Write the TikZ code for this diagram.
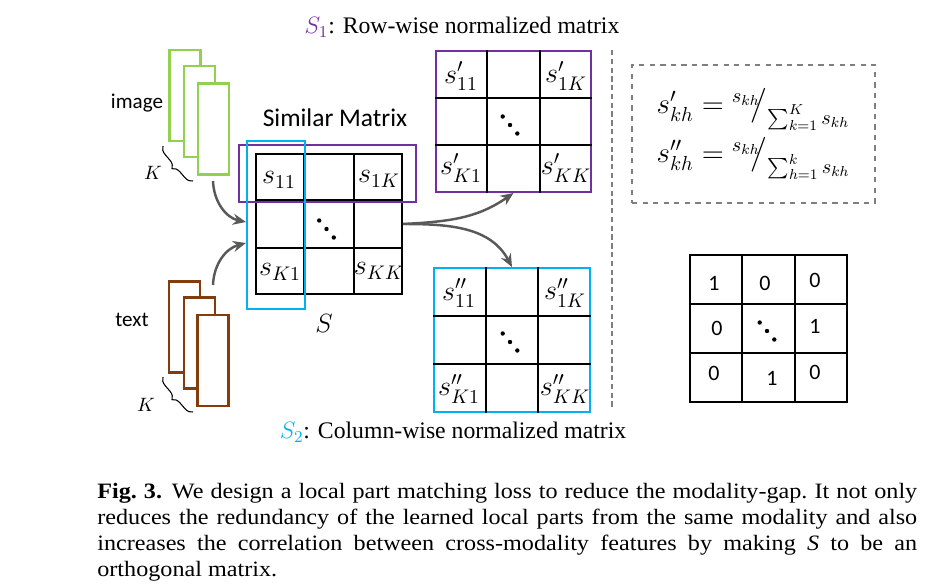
\RequirePackage{fix-cm}
\documentclass[tikz,border=0pt]{standalone}
\usepackage{amsmath, amssymb}
\usepackage{fontspec}
\setmainfont{Liberation Serif}
\newfontfamily\calfont{Carlito}
\newfontfamily\capfont[FakeStretch=1.1]{Liberation Serif}
\usepackage{tikz}
\usetikzlibrary{arrows.meta}
\usetikzlibrary{positioning,decorations.pathreplacing}
\usetikzlibrary{calc}
\usepackage{xcolor}
\definecolor{imggreen}{HTML}{92D050}
\definecolor{txtbrown}{HTML}{843C0C}
\definecolor{rowpurple}{HTML}{7030A0}
\definecolor{colcyan}{HTML}{00B0F0}
\definecolor{arrowgray}{HTML}{595959}
\definecolor{boxgray}{HTML}{7F7F7F}
\tikzset{
    featbox/.style={
        draw,
        fill=white,
        line width=1.2pt,
        minimum width=0.62cm,
        minimum height=1.82cm,
        inner sep=0pt
    },
    gridbox/.style={
        draw,
        line width=1.1pt,
        inner sep=0pt
    },
    entry/.style={
        font=\fontsize{16}{18}\selectfont,
        inner sep=1pt
    },
    digit/.style={
        font=\calfont\fontsize{12.5}{14}\selectfont,
        inner sep=1pt
    },
    flowarrow/.style={
        draw=arrowgray,
        line width=1.4pt,
        -{Stealth[length=2.6mm, width=2.2mm]}
    },
    kbrace/.style={
        decorate,
        decoration={brace, amplitude=4.5pt},
        line width=0.6pt
    }
}

\begin{document}
\begin{tikzpicture}[x=0.02cm, y=0.02cm]
    \useasboundingbox (0,0) rectangle (943,-584);

    % Image features
    \node[featbox, draw=imggreen] (img1) at (185,-95.5) {};
    \node[featbox, draw=imggreen] (img2) at (199.5,-111.5) {};
    \node[featbox, draw=imggreen] (img3) at (213.5,-129) {};
    \node[font=\calfont\fontsize{12}{14}\selectfont] (imglabel) at (137,-103) {image};
    \draw[kbrace] (193,-181) -- (163,-146);
    \node[font=\fontsize{11}{12}\selectfont] (kimg) at (153,-173) {$K$};

    % Text features
    \node[featbox, draw=txtbrown] (txt1) at (184.5,-327) {};
    \node[featbox, draw=txtbrown] (txt2) at (199.5,-343) {};
    \node[featbox, draw=txtbrown] (txt3) at (213,-360.5) {};
    \node[font=\calfont\fontsize{12}{14}\selectfont] (txtlabel) at (132,-320) {text};
    \draw[kbrace] (193,-412) -- (163,-377);
    \node[font=\fontsize{11}{12}\selectfont] (ktxt) at (146,-405) {$K$};

    % Matrices
    \node[gridbox, minimum width=2.92cm, minimum height=2.8cm] (S) at (329,-224) {};
    \node[gridbox, draw=rowpurple, minimum width=3.1cm, minimum height=2.82cm] (S1) at (513.5,-121.5) {};
    \node[gridbox, draw=colcyan, minimum width=3.12cm, minimum height=2.88cm] (S2) at (512,-340) {};
    \node[gridbox, minimum width=3.14cm, minimum height=2.94cm] (I) at (768.5,-328.5) {};
    \foreach \m in {S,S1,S2,I}
        \foreach \f in {0.333,0.667} {
            \draw[line width=1.1pt] ($(\m.north west)!\f!(\m.north east)$) -- ($(\m.south west)!\f!(\m.south east)$);
            \draw[line width=1.1pt] ($(\m.north west)!\f!(\m.south west)$) -- ($(\m.north east)!\f!(\m.south east)$);
        }
    % Diagonal dots in the middle cells
    \foreach \m/\dx/\dy in {S/-2.5/-5, S1/-3.5/-3.5, S2/-2/-2, I/-1.5/-2.5}
        \foreach \d in {-1,0,1}
            \fill ($(\m.center)+(\dx,\dy)+(\d*7.3,-\d*8.5)$) circle (2.2);

    % Row and column of S
    \node[draw=rowpurple, line width=1.2pt, minimum width=3.54cm, minimum height=1.14cm, inner sep=0pt] (rowS) at (327.5,-173.5) {};
    \node[draw=colcyan, line width=1.2pt, minimum width=1.16cm, minimum height=3.36cm, inner sep=0pt] (colS) at (276,-225) {};

    % Entries of S
    \node[entry] (s11) at (279,-180) {$s_{11}$};
    \node[entry] (s1K) at (379,-179) {$s_{1K}$};
    \node[entry] (sK1) at (280,-272) {$s_{K1}$};
    \node[entry] (sKK) at (379,-271) {$s_{KK}$};
    \node[font=\calfont\fontsize{14.5}{16}\selectfont] (simtitle) at (335,-118) {Similar Matrix};
    \node[font=\fontsize{15}{17}\selectfont] (Slabel) at (324,-323) {$S$};

    % Entries of S1
    \node[entry] (a11) at (461,-76) {$s'_{11}$};
    \node[entry] (a1K) at (566,-76) {$s'_{1K}$};
    \node[entry] (aK1) at (461,-168) {$s'_{K1}$};
    \node[entry] (aKK) at (566,-168) {$s'_{KK}$};

    % Entries of S2
    \node[entry] (b11) at (459,-293) {$s''_{11}$};
    \node[entry] (b1K) at (565,-293) {$s''_{1K}$};
    \node[entry] (bK1) at (459,-389) {$s''_{K1}$};
    \node[entry] (bKK) at (565,-389) {$s''_{KK}$};

    % Titles
    \node[font=\fontsize{13.5}{16}\selectfont] (t1) at (462,-27) {\textcolor{rowpurple}{$S_1$}: Row-wise normalized matrix};
    \node[font=\fontsize{13.5}{16}\selectfont] (t2) at (453,-432) {\textcolor{colcyan}{$S_2$}: Column-wise normalized matrix};

    % Arrows
    \coordinate (imgout) at (213,-181);
    \coordinate (txtout) at (213,-285);
    \draw[flowarrow] (imgout) to[out=-88, in=168] ($(colS.west)+(0,3)$);
    \draw[flowarrow] (txtout) to[out=88, in=195] ($(colS.west)+(0,-18)$);
    \draw[flowarrow] (S.east) to[out=3, in=-145] (S1.south);
    \draw[flowarrow] (S.east) to[out=0, in=118] (S2.north);

    % Separator
    \draw[boxgray, line width=0.7pt, dash pattern=on 3pt off 2pt] (612,-50) -- (612,-407);

    % Normalization formulas
    \node[draw=boxgray, line width=1.2pt, dashed, minimum width=4.86cm, minimum height=2.76cm,
          align=left, font=\fontsize{16.5}{28}\selectfont] (eqbox) at (753.5,-134)
        {$s'_{kh} = {}^{s_{kh}}\!\!\big/_{\sum_{k=1}^{K} s_{kh}}$\\
         $s''_{kh} = {}^{s_{kh}}\!\!\big/_{\sum_{h=1}^{k} s_{kh}}$};

    % Identity matrix
    \node[digit] (i11) at (714,-283) {1};
    \node[digit] (i12) at (765,-283) {0};
    \node[digit] (i13) at (815,-280) {0};
    \node[digit] (i21) at (717,-328) {0};
    \node[digit] (i23) at (815,-326) {1};
    \node[digit] (i31) at (714,-373) {0};
    \node[digit] (i32) at (772,-378) {1};
    \node[digit] (i33) at (815,-372) {0};

    % Caption
    \node[anchor=north west, inner sep=0pt, text width=16.4cm, align=justify,
          font=\capfont\fontsize{12.5}{14.8}\selectfont\frenchspacing] (caption) at (97,-483)
        {\textbf{Fig.~3.}\hspace{0.45em}We design a local part matching loss to reduce the modality-gap. It not only\linebreak
         reduces the redundancy of the learned local parts from the same modality and also\linebreak
         increases the correlation between cross-modality features by making \textit{S} to be an\linebreak
         orthogonal matrix.};
\end{tikzpicture}
\end{document}
